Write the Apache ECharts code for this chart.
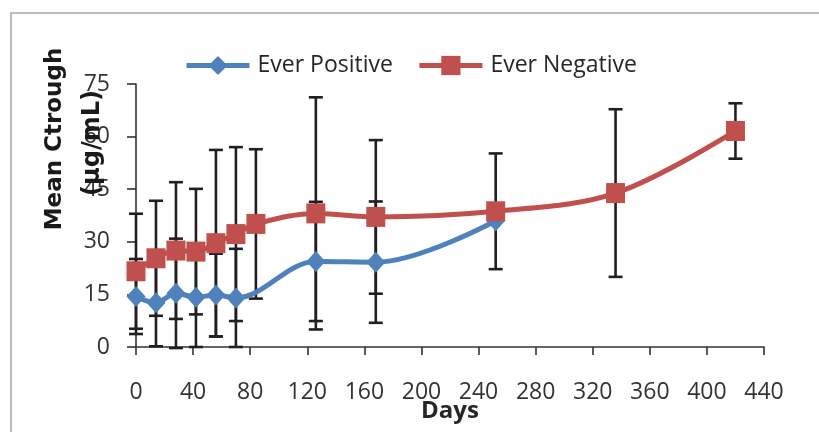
<!DOCTYPE html>
<html>
<head>
<meta charset="utf-8">
<script src="https://cdn.jsdelivr.net/npm/echarts@6/dist/echarts.min.js"></script>
<style>
html,body{margin:0;padding:0;background:#fff;}
#chart{width:819px;height:432px;}
</style>
</head>
<body>
<div id="chart"></div>
<script>
// ---- data ----
const posDays   = [0, 14, 28, 42, 56, 70, 126, 168, 252];
const posMean   = [14.4, 12.6, 15.3, 14.2, 14.8, 14.0, 24.4, 24.2, 36.0];
const posErr    = [10.7, 12.4, 15.6, 14.2, 11.8, 14.0, 17.0, 17.3, null];

const negDays   = [0, 14, 28, 42, 56, 70, 84, 126, 168, 252, 336, 420];
const negMean   = [21.6, 25.3, 27.5, 27.2, 29.6, 32.2, 35.1, 38.1, 37.1, 38.7, 43.9, 61.6];
const negErr    = [16.4, 16.4, 19.5, 17.9, 26.6, 24.8, 21.3, 33.1, 21.9, 16.5, 23.9, 7.9];

const xTicks = [0, 40, 80, 120, 160, 200, 240, 280, 320, 360, 400, 440];
const yTicks = [0, 15, 30, 45, 60, 75];

const seriesNames = ['Ever Positive', 'Ever Negative'];
const xTitle = 'Days';
const yTitle1 = 'Mean Ctrough';
const yTitle2 = '(μg/mL)';

// ---- build series data ----
function pairs(xs, ys) { return xs.map((x, i) => [x, ys[i]]); }
function errData(xs, ys, es) {
  const out = [];
  xs.forEach((x, i) => { if (es[i] != null) out.push([x, ys[i] - es[i], ys[i] + es[i]]); });
  return out;
}

const BLUE = '#4F81BD', RED = '#C0504D', INK = '#231f20';
const FONT = '"Open Sans", "Noto Sans", sans-serif';
const TFONT = '"DejaVu Sans", sans-serif';

function renderErr(params, api) {
  const x = api.value(0), lo = api.value(1), hi = api.value(2);
  const pHi = api.coord([x, hi]);
  const pLo = api.coord([x, lo]);
  const h = 7;
  const st = { stroke: INK, lineWidth: 2.6 };
  return {
    type: 'group',
    children: [
      { type: 'line', shape: { x1: pHi[0], y1: pHi[1], x2: pLo[0], y2: pLo[1] }, style: st },
      { type: 'line', shape: { x1: pHi[0] - h, y1: pHi[1], x2: pHi[0] + h, y2: pHi[1] }, style: st },
      { type: 'line', shape: { x1: pLo[0] - h, y1: pLo[1], x2: pLo[0] + h, y2: pLo[1] }, style: st }
    ]
  };
}

const chart = echarts.init(document.getElementById('chart'), null, { renderer: 'canvas' });

chart.setOption({
  animation: false,
  backgroundColor: '#fff',
  graphic: [
    {
      type: 'rect', silent: true, z: -10,
      shape: { x: 11, y: 13, width: 900, height: 500 },
      style: { fill: 'none', stroke: '#a6a6a6', lineWidth: 1.5 }
    },
    {
      type: 'text', silent: true, z: 10,
      x: 55, y: 139, rotation: Math.PI / 2,
      style: { text: yTitle1, font: 'bold 23px ' + TFONT, fill: '#1a1a1a', align: 'center', verticalAlign: 'middle' }
    },
    {
      type: 'text', silent: true, z: 10,
      x: 93, y: 143, rotation: Math.PI / 2,
      style: { text: yTitle2, font: 'bold 24px ' + TFONT, fill: '#1a1a1a', align: 'center', verticalAlign: 'middle' }
    }
  ],
  legend: {
    data: seriesNames,
    left: 184, top: 54, padding: 0,
    itemWidth: 63, itemHeight: 24, itemGap: 24,
    lineStyle: { width: 5 },
    textStyle: { fontFamily: FONT, fontSize: 23, color: '#262626', padding: [0, 0, 0, 3] }
  },
  grid: { left: 136, right: 55, top: 84, bottom: 85, containLabel: false, outerBoundsMode: 'none' },
  xAxis: {
    type: 'value', min: xTicks[0], max: xTicks[xTicks.length - 1], interval: 40,
    name: xTitle, nameLocation: 'middle', nameGap: 52, nameMoveOverlap: false,
    nameTextStyle: { fontFamily: FONT, fontWeight: 'bold', fontSize: 24, color: '#262626' },
    axisLine: { show: true, lineStyle: { color: '#333', width: 1.6 } },
    axisTick: { show: true, length: 8, lineStyle: { color: '#333', width: 1.6 } },
    axisLabel: { margin: 34, fontFamily: FONT, fontSize: 23, color: '#333' },
    splitLine: { show: false }
  },
  yAxis: {
    type: 'value', min: yTicks[0], max: yTicks[yTicks.length - 1], interval: 15,
    axisLine: { show: true, lineStyle: { color: '#333', width: 1.6 } },
    axisTick: { show: true, length: 9, lineStyle: { color: '#333', width: 1.6 } },
    axisLabel: { margin: 26, fontFamily: FONT, fontSize: 23, color: '#333' },
    splitLine: { show: false }
  },
  series: [
    {
      type: 'custom', renderItem: renderErr, clip: false, silent: true,
      encode: { x: 0, y: [1, 2] },
      data: errData(posDays, posMean, posErr), z: 1
    },
    {
      type: 'custom', renderItem: renderErr, clip: false, silent: true,
      encode: { x: 0, y: [1, 2] },
      data: errData(negDays, negMean, negErr), z: 1
    },
    {
      name: seriesNames[0], type: 'line', smooth: 0.35,
      data: pairs(posDays, posMean),
      symbol: 'diamond', symbolSize: [19, 21], showAllSymbol: true,
      lineStyle: { color: BLUE, width: 5 },
      itemStyle: { color: BLUE },
      z: 3
    },
    {
      name: seriesNames[1], type: 'line', smooth: 0.35,
      data: pairs(negDays, negMean),
      symbol: 'rect', symbolSize: [19, 20], showAllSymbol: true,
      lineStyle: { color: RED, width: 5 },
      itemStyle: { color: RED },
      z: 4
    }
  ]
});
</script>
</body>
</html>
